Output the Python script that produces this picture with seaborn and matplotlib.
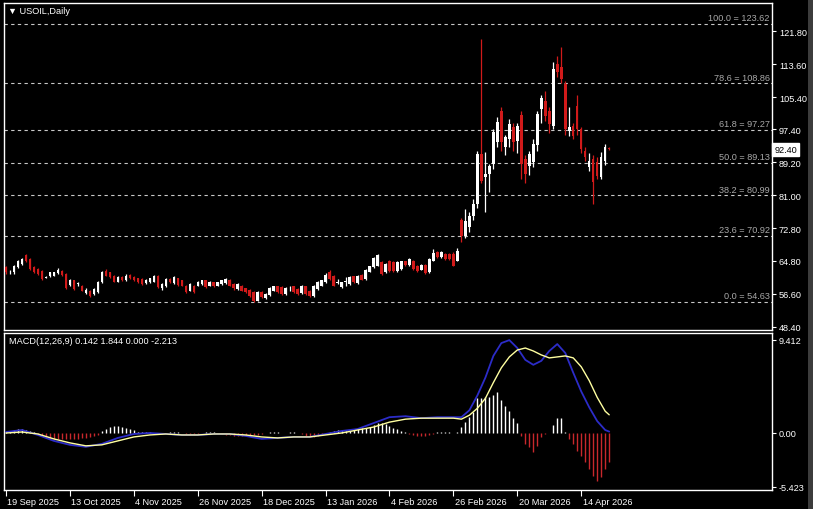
import numpy as np
import pandas as pd
import matplotlib
matplotlib.use("Agg")
import matplotlib.pyplot as plt
import matplotlib.transforms as mtransforms
import seaborn as sns

sns.set_style("dark", {"axes.facecolor": "black", "figure.facecolor": "black"})
plt.rcParams['font.family'] = ['Liberation Sans', 'DejaVu Sans']

# --- data (one entry per bar, 19 Sep 2025 onward) ---
opens = [
    63.2, 61.9, 61.9, 63.2, 64.0, 66.2, 65.2, 63.2, 62.7, 62.3,   # 0
    60.6, 60.9, 61.1, 61.8, 62.3, 61.5, 58.8, 59.9, 59.0, 58.6,   # 10
    56.8, 57.4, 56.5, 57.1, 59.4, 62.3, 61.9, 61.1, 59.6, 60.7,   # 20
    59.9, 61.3, 60.7, 60.4, 60.3, 59.3, 59.4, 59.6, 61.1, 58.0,   # 30
    58.4, 60.3, 59.3, 60.4, 59.9, 58.6, 57.4, 58.6, 58.6, 59.0,   # 40
    59.9, 58.6, 59.4, 58.6, 59.0, 59.3, 60.1, 59.0, 57.8, 58.6,   # 50
    57.9, 57.6, 57.0, 54.9, 57.1, 55.5, 56.3, 57.4, 58.4, 58.2,   # 60
    56.5, 57.9, 58.4, 57.8, 56.8, 58.4, 57.4, 56.0, 57.8, 58.6,   # 70
    59.4, 62.1, 61.1, 59.3, 58.2, 59.5, 59.0, 60.9, 59.3, 61.3,   # 80
    60.3, 62.1, 63.2, 63.6, 64.4, 61.9, 64.8, 64.4, 62.3, 62.7,   # 90
    64.6, 63.7, 64.8, 63.6, 62.6, 63.7, 61.9, 64.8, 67.0, 65.6,   # 100
    66.5, 66.5, 66.5, 64.8, 75.0, 71.0, 73.2, 76.0, 78.9, 91.3,   # 110
    85.5, 86.3, 88.8, 94.2, 102.0, 92.9, 95.0, 97.9, 94.6, 101.0, # 120
    90.0, 88.4, 89.2, 93.4, 102.5, 104.5, 102.0, 98.3, 113.6, 112.8,  # 130
    108.7, 97.0, 98.3, 103.3, 97.5, 92.1, 88.0, 90.0, 89.2, 85.5,     # 140
    89.5, 92.8,                                                       # 150
]
highs = [
    63.6, 62.4, 63.8, 65.0, 65.4, 66.5, 65.4, 63.4, 62.9, 62.5,
    61.0, 62.1, 62.1, 62.9, 62.5, 61.7, 60.2, 60.1, 59.6, 58.8,
    57.9, 57.6, 58.0, 59.8, 62.3, 62.8, 62.1, 61.3, 60.9, 60.9,
    61.4, 61.5, 60.9, 60.6, 60.5, 60.3, 60.6, 61.3, 61.3, 59.2,
    60.5, 60.5, 60.9, 60.6, 60.1, 58.8, 59.2, 58.8, 59.8, 60.1,
    60.1, 59.8, 59.6, 59.6, 60.1, 60.5, 60.3, 59.2, 59.2, 58.8,
    58.1, 57.8, 57.2, 57.2, 57.3, 56.7, 58.2, 58.6, 58.6, 58.4,
    58.2, 58.6, 58.6, 58.0, 58.8, 58.6, 57.6, 58.8, 59.8, 60.1,
    61.8, 62.6, 61.3, 60.3, 59.6, 60.8, 60.9, 61.1, 61.3, 61.5,
    62.8, 63.6, 65.6, 66.5, 64.6, 64.2, 65.0, 64.6, 64.6, 64.8,
    64.8, 65.5, 65.0, 63.8, 63.9, 63.9, 65.4, 67.6, 67.2, 67.1,
    66.7, 66.7, 66.9, 67.9, 75.5, 77.6, 77.0, 80.0, 92.0, 119.8,
    91.7, 88.8, 97.5, 100.5, 103.0, 96.0, 100.0, 99.0, 99.0, 102.0,
    91.0, 92.0, 95.0, 102.0, 106.0, 107.0, 103.0, 114.0, 115.7, 117.8,
    109.5, 102.9, 99.0, 105.8, 98.0, 93.0, 91.5, 91.0, 90.5, 91.7,
    93.8, 92.9,
]
lows = [
    61.5, 61.6, 61.5, 62.9, 63.8, 64.4, 62.5, 61.7, 61.3, 60.1,
    60.4, 60.7, 60.9, 61.6, 61.1, 57.8, 58.5, 57.5, 58.6, 57.2,
    56.5, 55.8, 56.3, 56.9, 59.2, 60.9, 60.5, 59.4, 59.4, 59.7,
    59.7, 60.2, 59.7, 59.2, 58.8, 59.1, 59.2, 59.4, 58.0, 57.6,
    58.2, 59.2, 59.1, 58.6, 58.4, 56.9, 57.2, 56.8, 58.4, 58.8,
    58.0, 58.4, 58.2, 58.4, 58.8, 59.1, 58.4, 57.6, 57.6, 57.2,
    56.8, 55.9, 54.63, 54.7, 55.5, 55.3, 56.1, 57.2, 56.9, 56.3,
    56.3, 57.4, 56.8, 56.3, 56.6, 56.3, 55.8, 55.8, 57.6, 58.4,
    59.2, 60.1, 58.4, 58.9, 58.0, 58.6, 58.8, 59.2, 59.1, 59.9,
    60.1, 61.9, 63.0, 63.4, 61.3, 61.7, 62.1, 62.1, 62.1, 62.5,
    63.5, 63.5, 62.5, 62.1, 62.4, 61.6, 61.7, 64.6, 65.4, 65.4,
    64.9, 65.0, 63.4, 64.6, 69.4, 70.5, 72.0, 75.0, 78.0, 84.0,
    76.8, 81.8, 87.5, 93.0, 92.0, 91.0, 93.0, 92.0, 91.5, 85.0,
    84.0, 86.0, 88.0, 92.0, 99.0, 99.5, 96.5, 97.5, 110.5, 109.0,
    96.0, 95.8, 95.0, 96.0, 91.5, 89.5, 87.0, 78.9, 85.0, 85.0,
    88.5, 92.3,
]
closes = [
    61.9, 62.1, 63.6, 64.8, 65.2, 64.6, 62.7, 61.9, 61.5, 60.3,
    60.8, 61.9, 61.9, 62.6, 61.3, 58.0, 59.9, 57.8, 59.2, 57.4,
    57.6, 56.1, 57.8, 59.6, 61.9, 61.1, 60.7, 59.6, 60.7, 59.9,
    61.1, 60.4, 59.9, 59.4, 59.0, 60.1, 60.4, 61.1, 58.2, 59.0,
    60.3, 59.4, 60.7, 58.8, 58.6, 57.1, 59.0, 57.0, 59.6, 59.9,
    58.2, 59.6, 58.4, 59.4, 59.9, 60.3, 58.6, 57.9, 59.0, 57.4,
    57.0, 56.1, 54.9, 57.0, 55.7, 56.5, 58.0, 58.4, 57.1, 56.5,
    58.0, 58.0, 57.0, 56.5, 58.6, 56.5, 56.0, 58.6, 59.6, 59.9,
    61.3, 60.3, 58.6, 59.6, 59.4, 59.7, 60.7, 59.4, 61.1, 60.1,
    62.6, 63.4, 65.4, 66.1, 61.5, 64.0, 62.3, 62.3, 64.4, 64.6,
    63.7, 65.1, 62.7, 62.3, 63.7, 61.8, 65.2, 66.7, 65.6, 66.9,
    65.1, 65.2, 63.6, 67.3, 71.0, 74.7, 76.0, 78.9, 91.3, 84.7,
    86.3, 88.4, 96.7, 99.1, 94.2, 95.4, 98.7, 94.2, 98.3, 88.8,
    86.3, 91.3, 93.8, 101.2, 105.1, 100.8, 98.7, 112.4, 111.6, 109.9,
    97.5, 97.9, 95.8, 97.5, 92.5, 90.5, 89.6, 84.3, 85.9, 90.5,
    93.0, 92.4,
]
last_price = 92.40

fib_levels = ["100.0", "78.6", "61.8", "50.0", "38.2", "23.6", "0.0"]
fib_prices = [123.62, 108.86, 97.27, 89.13, 80.99, 70.92, 54.63]

price_ticks = [121.80, 113.60, 105.40, 97.40, 89.20, 81.00, 72.80, 64.80, 56.60, 48.40]

date_labels = ["19 Sep 2025", "13 Oct 2025", "4 Nov 2025", "26 Nov 2025", "18 Dec 2025",
               "13 Jan 2026", "4 Feb 2026", "26 Feb 2026", "20 Mar 2026", "14 Apr 2026"]
date_bars = [0, 16, 32, 48, 64, 80, 96, 112, 128, 144]

# MACD lines, read at a few bars
macd_bars = [0, 4, 8, 12, 16, 20, 24, 28, 32, 36, 40, 44, 48, 52, 56, 60, 64, 68, 72, 76,
             80, 84, 88, 92, 96, 100, 104, 108, 112, 114, 116, 118, 120, 122, 124, 126,
             128, 130, 132, 134, 136, 138, 140, 142, 144, 146, 148, 150, 151]
macd_main = [0.1, 0.3, -0.2, -0.8, -1.2, -1.4, -1.1, -0.5, -0.1, 0.0, -0.1, -0.2, -0.2, -0.1,
             -0.1, -0.3, -0.6, -0.5, -0.4, -0.4, -0.1, 0.2, 0.4, 1.0, 1.6, 1.7, 1.5, 1.6, 1.6,
             1.6, 2.3, 3.8, 5.6, 7.8, 9.1, 9.4, 8.6, 7.4, 6.9, 7.3, 8.3, 9.0, 8.1, 6.1, 4.2,
             2.6, 1.2, 0.3, 0.14]
macd_signal = [0.0, 0.1, -0.1, -0.6, -1.0, -1.3, -1.2, -0.8, -0.4, -0.2, -0.1, -0.2, -0.2, -0.1,
               -0.1, -0.2, -0.4, -0.5, -0.4, -0.4, -0.2, 0.0, 0.3, 0.6, 1.1, 1.4, 1.5, 1.5, 1.5,
               1.4, 1.8, 2.5, 3.5, 5.1, 6.6, 7.7, 8.4, 8.6, 8.3, 7.9, 7.6, 7.7, 7.8, 7.6, 6.7,
               5.3, 3.6, 2.2, 1.84]
macd_hist = (
    [0.1, 0.2, 0.3, 0.4, 0.4, 0.3, 0.2, 0.1, -0.1]                                   # 0-8
    + [-0.3, -0.4, -0.5, -0.6, -0.6, -0.6, -0.6, -0.6, -0.6, -0.6, -0.5, -0.5, -0.4,
       -0.3, -0.2]                                                                    # 9-23
    + [0.2, 0.4, 0.6, 0.7, 0.7, 0.6, 0.5, 0.4, 0.3, 0.1]                              # 24-33
    + [0.1, 0.1, 0.1, 0.0, -0.1, -0.1, 0.0, 0.1, 0.1, 0.1, 0.0, -0.1, -0.2, -0.2, -0.1,
       0.0, 0.1, 0.1, 0.1, 0.0, -0.1, -0.2, -0.2, -0.3, -0.3, -0.3, -0.2]             # 34-60
    + [-0.2, -0.2, -0.2, -0.1, 0.0, 0.1, 0.1, 0.1, 0.0, 0.0, 0.1, 0.1, 0.0, -0.1, -0.3,
       -0.4, -0.4, -0.3, -0.2, 0.0]                                                   # 61-80
    + [0.1, 0.2, 0.3, 0.3, 0.2, 0.2, 0.3, 0.4, 0.5, 0.5, 0.6, 0.8, 1.0, 1.0, 0.9, 0.7,
       0.5, 0.4, 0.2, 0.1]                                                            # 81-100
    + [-0.1, -0.2, -0.3, -0.3, -0.3, -0.2, -0.1, 0.1, 0.1, 0.1, 0.1, 0.0, 0.1]        # 101-113
    + [0.57, 1.08, 1.58, 2.09, 3.51, 3.51, 3.61, 3.61, 3.84, 4.18, 3.37, 2.70, 2.26,
       1.48, 1.01, -0.27, -1.11, -1.45, -1.96, -1.28, -0.44, -0.10, 0.0, 0.81, 1.48,
       1.48, 0.1, -0.61, -1.11, -1.79, -2.29, -2.97, -3.64, -4.32, -4.82, -4.49,
       -3.64, -2.97]                                                                  # 114-151
)

BULL = "#ffffff"
BEAR = "#d11a1a"
FG = "#ffffff"
FS = 6.6

df = pd.DataFrame({"open": opens, "high": highs, "low": lows, "close": closes})
df["bar"] = np.arange(len(df))
df["up"] = df["close"] >= df["open"]

W, H = 813, 510
fig = plt.figure(figsize=(W / 100, H / 100), dpi=100)
fig.patch.set_facecolor("black")
ax = fig.add_axes([4 / W, 1 - 331 / H, 768 / W, 327 / H])
axm = fig.add_axes([4 / W, 1 - 491 / H, 768 / W, 157 / H])

# --- candles ---
colors = np.where(df["up"], BULL, BEAR)
ax.vlines(df["bar"], df["low"], df["high"], colors=colors, linewidth=0.9, zorder=3)
body_lo = df[["open", "close"]].min(axis=1)
body_h = (df["close"] - df["open"]).abs().clip(lower=0.2)
ax.bar(df["bar"], body_h, bottom=body_lo, width=0.62, color=colors, linewidth=0, zorder=4)

# --- fibonacci levels ---
lbl_tr = mtransforms.blended_transform_factory(ax.transAxes, ax.transData)
for lvl, p in zip(fib_levels, fib_prices):
    ax.axhline(p, color="#c8c8c8", lw=0.8, dashes=(3, 3), zorder=2)
    ax.text(0.997, p + 0.4, f"{lvl} = {p:.2f}", transform=lbl_tr, ha="right", va="bottom",
            color="#a8a8a8", fontsize=FS)

ax.set_xlim(-0.5, 191.75)
ax.set_ylim(47.6, 128.75)
ax.yaxis.tick_right()
ax.set_yticks(price_ticks)
ax.set_yticklabels([f"{v:.2f}" for v in price_ticks])
ax.set_xticks([])
ax.tick_params(axis="y", colors=FG, labelcolor=FG, labelsize=FS, length=3, width=0.8, pad=2,
               right=True, left=False)
ax.text(1.003, last_price, f"{last_price:.2f}", transform=lbl_tr, ha="left", va="center",
        color="black", fontsize=FS,
        bbox=dict(facecolor="white", edgecolor="white", boxstyle="square,pad=0.2"))

# --- MACD pane ---
hist_col = np.where(np.array(macd_hist) >= 0, BULL, "#c8282c")
axm.vlines(np.arange(len(macd_hist)), 0, macd_hist, colors=hist_col, linewidth=1.0, zorder=2)
sns.lineplot(x=macd_bars, y=macd_main, ax=axm, color="#2c2cc8", lw=1.3, zorder=3)
sns.lineplot(x=macd_bars, y=macd_signal, ax=axm, color="#ffffa0", lw=1.0, zorder=4)
axm.set_xlim(-0.5, 191.75)
axm.set_ylim(-5.77, 10.12)
axm.yaxis.tick_right()
axm.set_yticks([9.412, 0.0, -5.423])
axm.set_yticklabels(["9.412", "0.00", "-5.423"])
axm.set_xticks(date_bars)
axm.set_xticklabels(date_labels, ha="left")
axm.set_xlabel("")
axm.set_ylabel("")
axm.tick_params(axis="y", colors=FG, labelcolor=FG, labelsize=FS, length=3, width=0.8, pad=2,
                right=True, left=False)
axm.tick_params(axis="x", colors=FG, labelcolor=FG, labelsize=FS, length=4, width=0.8, pad=1,
                bottom=True)
for lab in axm.get_xticklabels():
    lab.set_transform(lab.get_transform() + mtransforms.ScaledTranslation(1.5 / 100, 0, fig.dpi_scale_trans))
for a in (ax, axm):
    a.set_facecolor("black")
    a.grid(False)
    for s in a.spines.values():
        s.set_color(FG)
        s.set_linewidth(1.0)

fig.text(8 / W, 1 - 12 / H, "\u25bc USOIL,Daily", color=FG, fontsize=FS, va="center", ha="left")
axm.text(0.006, 0.955, "MACD(12,26,9) 0.142 1.844 0.000 -2.213", transform=axm.transAxes,
         color=FG, fontsize=FS, ha="left", va="center")

# thin grey frame strip on the far right, as in the terminal window
fig.patches.append(plt.Rectangle((808 / W, 0), 5 / W, 1, transform=fig.transFigure,
                                 facecolor="#3c3c3c", edgecolor="none", zorder=0))

fig.savefig("out.png", dpi=100, facecolor="black")
